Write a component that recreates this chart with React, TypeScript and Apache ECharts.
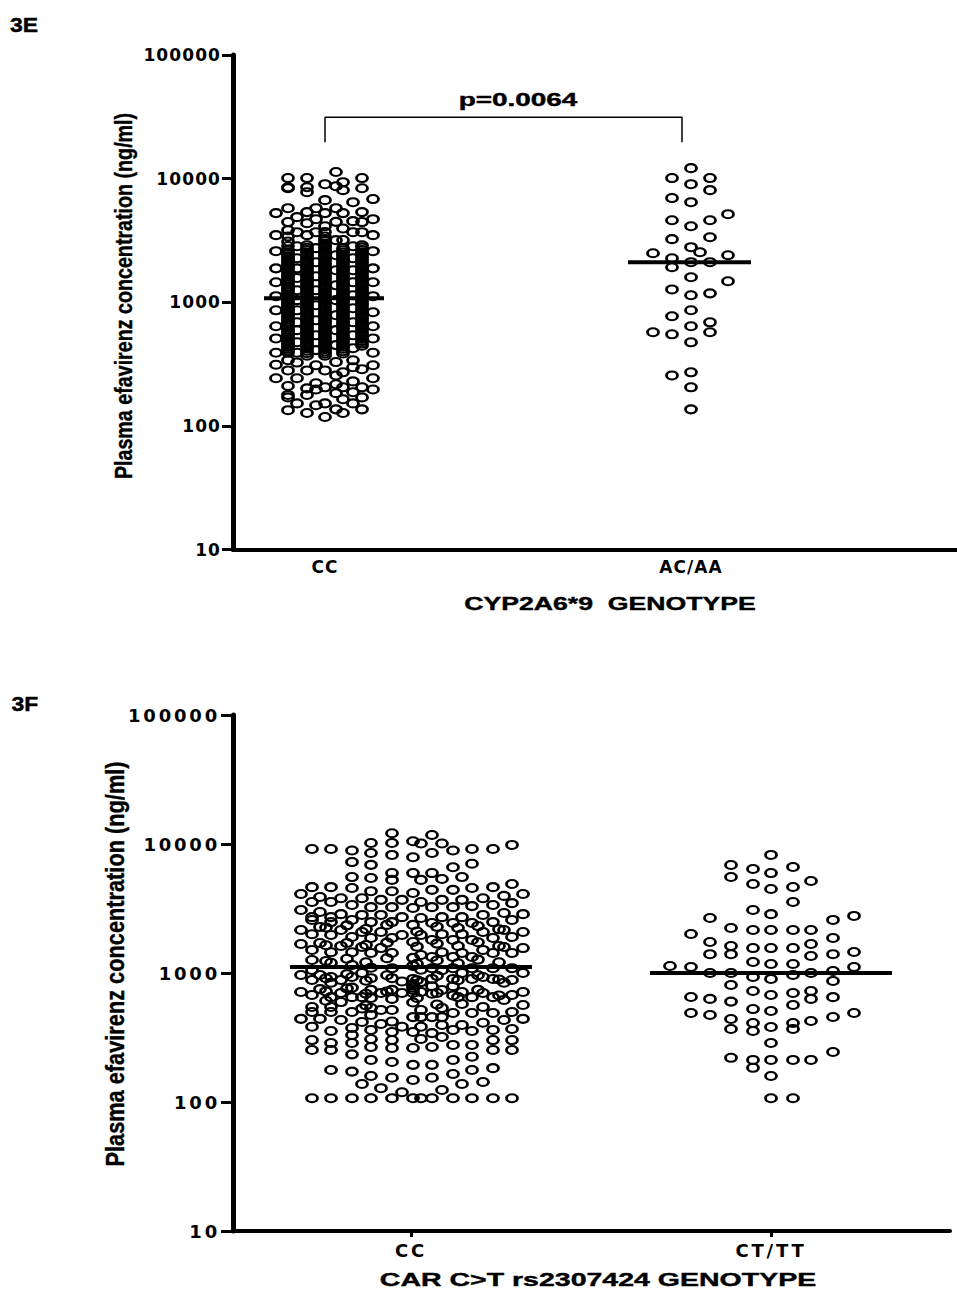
import React, { useEffect, useRef } from "react";
import * as echarts from "echarts";

const yTicks = [10, 100, 1000, 10000, 100000];
const eCategories = ["CC", "AC/AA"];
const fCategories = ["CC", "CT/TT"];
const eCentres = [92, 458];
const fCentres = [178, 538];
const eMeans = [1077, 2110];
const fMeans = [1113, 1000];

// Panel 3E, genotype CC: horizontal swarm offsets and their concentrations (ng/ml)
const eCCOffsets = [-49, -37, -28, -18, -9, 0, 11, 18, 28, 37, 48, -37, -18, 0, 18, 37];
const eCCValues = [
  [5260, 3490, 2590, 1880, 1450, 1120, 860, 640, 510, 390, 312, 243],
  [10100, 8510, 8350, 5770, 4450, 3830, 3400, 3100, 2850, 2640, 2450, 2270, 2100, 1950, 1810, 1680, 1560, 1450, 1340, 1250, 1160, 1080, 1000, 930, 870, 810, 750, 700, 650, 600, 560, 520, 480, 450, 420, 390, 340, 281, 210, 178, 170, 134],
  [4880, 3690, 2840, 2270, 1880, 1570, 1250, 1040, 860, 690, 595, 475, 390, 325, 243, 152],
  [10100, 8510, 7770, 5360, 4350, 3490, 2890, 2640, 2420, 2230, 2050, 1880, 1730, 1590, 1470, 1350, 1250, 1150, 1060, 980, 900, 830, 770, 710, 655, 605, 560, 515, 475, 440, 405, 370, 281, 201, 178, 127],
  [5770, 4700, 3690, 2740, 2110, 1620, 1250, 945, 715, 540, 410, 309, 221, 197, 147],
  [9020, 6700, 5260, 4120, 3700, 3400, 3130, 2880, 2650, 2440, 2250, 2070, 1910, 1760, 1620, 1490, 1370, 1260, 1160, 1070, 985, 905, 835, 770, 710, 655, 600, 555, 510, 470, 435, 400, 370, 281, 205, 152, 118],
  [11300, 8680, 5770, 4470, 3180, 2400, 1815, 1370, 1040, 785, 595, 450, 328, 256, 217, 184, 136],
  [9360, 8070, 5260, 3950, 3190, 2740, 2530, 2330, 2150, 1980, 1820, 1680, 1550, 1430, 1320, 1210, 1120, 1030, 950, 875, 805, 745, 685, 630, 580, 535, 495, 455, 420, 385, 271, 205, 164, 127],
  [6450, 4530, 3690, 2840, 2270, 1815, 1450, 1140, 895, 690, 540, 424, 339, 298, 229, 187, 152],
  [10100, 8360, 5360, 4450, 3690, 2890, 2650, 2440, 2250, 2070, 1900, 1750, 1610, 1480, 1360, 1250, 1150, 1060, 980, 900, 830, 765, 705, 650, 600, 550, 505, 465, 287, 205, 170, 136],
  [6830, 4700, 3490, 2590, 1880, 1450, 1120, 830, 640, 510, 390, 309, 243, 197],
  [2540, 2360, 2190, 2030, 1880, 1740, 1620, 1510, 1400, 1300, 1210, 1120, 1040, 965, 900, 840, 780, 725, 675, 625, 580, 540, 500, 465, 435, 405],
  [2760, 2530, 2330, 2140, 1960, 1800, 1660, 1530, 1410, 1300, 1200, 1105, 1020, 940, 865, 800, 740, 682, 630, 582, 537, 495, 457, 422, 388],
  [3250, 2990, 2760, 2540, 2340, 2160, 1990, 1830, 1690, 1560, 1430, 1315, 1210, 1115, 1027, 945, 870, 802, 740, 682, 627, 577, 532, 490, 452, 417, 385],
  [2630, 2430, 2240, 2060, 1900, 1750, 1610, 1490, 1375, 1265, 1165, 1075, 990, 912, 840, 775, 715, 657, 607, 557, 515, 475, 437, 402],
  [2780, 2540, 2340, 2160, 1980, 1825, 1680, 1545, 1420, 1305, 1205, 1105, 1020, 940, 865, 797, 735, 677, 625, 575, 527, 485, 445],
];

// Panel 3E, genotype AC/AA
const eACOffsets = [-38, -19, 0, 9, 19, 37];
const eACValues = [
  [2490, 572],
  [10100, 6960, 4610, 3240, 2270, 1920, 1270, 770, 550, 256],
  [12160, 9020, 6450, 4120, 2790, 2110, 1594, 1140, 861, 639, 474, 271, 205, 136],
  [2540],
  [10100, 8070, 4610, 3360, 2110, 1180, 688, 572],
  [5160, 2400, 1480],
];

// Panel 3F, genotype CC
const fCCOffsets = [-110, -99, -91, -80, -70, -59, -49, -40, -30, -19, -9, 2, 10, 21, 31, 42, 51, 61, 72, 82, 93, 101, 112, -85, -64, -45, -24, 6, 26, 47, 67, 88];
const fCCValues = [
  [4100, 3080, 2155, 1680, 965, 713, 441],
  [9140, 4630, 3550, 2710, 2580, 2000, 1510, 1260, 1055, 883, 675, 545, 498, 383, 302, 253, 107],
  [3880, 2970, 2270, 1710, 965, 750, 441],
  [9140, 4630, 3550, 2710, 2480, 1970, 1450, 1200, 930, 840, 650, 545, 498, 355, 287, 253, 177, 107],
  [3800, 2860, 2155, 1620, 883, 700, 595, 432],
  [8900, 7240, 5540, 4560, 3370, 2580, 1900, 1450, 1153, 930, 770, 650, 498, 375, 331, 287, 234, 172, 107],
  [3800, 2820, 2080, 1590, 1000, 650, 530, 417, 138],
  [10180, 8520, 6890, 5450, 4310, 3240, 2480, 1870, 1430, 1100, 912, 740, 640, 535, 473, 362, 308, 267, 212, 159, 107],
  [3690, 2820, 2080, 1560, 700, 517, 402, 128],
  [12100, 10180, 8230, 5950, 5270, 4310, 3240, 2480, 1870, 1430, 1090, 912, 740, 630, 517, 420, 349, 302, 262, 204, 154, 107],
  [3690, 2710, 1970, 860, 700, 383, 119],
  [10500, 7900, 5950, 4170, 3190, 2360, 1740, 1310, 1135, 900, 820, 800, 770, 740, 700, 590, 455, 349, 262, 194, 148, 107],
  [10100, 5270, 3550, 2670, 1970, 1380, 1060, 850, 713, 517, 455, 383, 308, 107],
  [11750, 8520, 5950, 4410, 3240, 2440, 1800, 1330, 1090, 900, 790, 690, 455, 342, 267, 194, 154, 107],
  [10100, 5360, 3690, 2710, 2000, 1450, 1050, 738, 535, 455, 395, 319, 124],
  [8900, 6600, 4410, 3240, 2440, 1800, 1330, 1090, 900, 790, 670, 490, 362, 277, 212, 165, 107],
  [5540, 3690, 2710, 2000, 1430, 1000, 713, 575, 395, 138],
  [9140, 7020, 4560, 3300, 2440, 1800, 1330, 1090, 900, 650, 490, 355, 277, 224, 177, 107],
  [3800, 2820, 2080, 1510, 930, 700, 545, 412, 143],
  [9140, 4630, 3370, 2480, 1870, 1430, 1090, 900, 650, 490, 362, 302, 253, 183, 107],
  [3960, 2920, 2155, 1590, 840, 618, 432],
  [9840, 4900, 3480, 2580, 1900, 1430, 1090, 883, 675, 498, 368, 302, 253, 107],
  [4100, 2860, 2080, 1560, 1000, 713, 565, 441],
  [2250, 1640, 1240, 910, 720, 610],
  [2340, 1710, 1290, 980, 760],
  [2190, 1650, 1210, 870, 690, 560],
  [2360, 1720, 1300, 960, 720],
  [2100, 1600, 1180, 880, 640],
  [2280, 1690, 1250, 950, 700, 570],
  [2230, 1620, 1190, 880, 650],
  [2310, 1730, 1270, 960, 740],
  [2180, 1620, 1210, 890, 670],
];

// Panel 3F, genotype CT/TT
const fCTOffsets = [-101, -80, -61, -40, -18, 0, 22, 40, 62, 83];
const fCTValues = [
  [1133],
  [2005, 1113, 652, 490],
  [2670, 1740, 1400, 1000, 630, 473],
  [6880, 5550, 2230, 1620, 1400, 1000, 807, 600, 440, 368, 220],
  [6400, 4900, 3080, 2155, 1560, 1217, 930, 725, 525, 410, 355, 212, 184],
  [8230, 5950, 4480, 2860, 2155, 1560, 1175, 900, 675, 507, 381, 287, 212, 159, 107],
  [6640, 4640, 3550, 2155, 1560, 1175, 965, 700, 565, 410, 368, 212, 107],
  [5170, 2155, 1680, 1355, 1000, 725, 630, 425, 212],
  [2580, 1870, 1400, 1035, 867, 650, 456, 244],
  [2770, 1455, 1113, 490],
];

const swarm = (centre: number, offsets: number[], values: number[][]) =>
  offsets.flatMap((o, i) => values[i].map((v) => [centre + o, v]));

const ELLIPSE = "path://M0 5A5 5 0 1 1 10 5A5 5 0 1 1 0 5Z";
const LABEL_FONT = "DejaVu Sans";
const TITLE_FONT = "Liberation Sans";

const scatter = (axis: number, data: number[][]) => ({
  type: "scatter",
  xAxisIndex: axis,
  yAxisIndex: axis,
  data,
  symbol: ELLIPSE,
  symbolSize: [11, 8],
  symbolKeepAspect: false,
  itemStyle: { color: "rgba(0,0,0,0)", borderColor: "#000", borderWidth: 2.4, opacity: 1 },
  silent: true,
  z: 2,
});

const meanLine = (axis: number, x0: number, x1: number, y: number) => ({
  type: "line",
  xAxisIndex: axis,
  yAxisIndex: axis,
  data: [[x0, y], [x1, y]],
  showSymbol: false,
  symbol: "none",
  lineStyle: { color: "#000", width: 4 },
  silent: true,
  z: 3,
});

const yAxis = (grid: number, tickLen: number, size: number) => ({
  type: "log",
  logBase: 10,
  gridIndex: grid,
  min: yTicks[0],
  max: yTicks[yTicks.length - 1],
  splitLine: { show: false },
  minorTick: { show: false },
  axisLine: { show: true, onZero: false, lineStyle: { color: "#000", width: 5 } },
  axisTick: { show: true, length: tickLen, lineStyle: { color: "#000", width: 3 } },
  axisLabel: {
    color: "#000",
    fontFamily: LABEL_FONT,
    fontWeight: "bold",
    fontSize: size,
    margin: tickLen + 1,
    formatter: (v: number) => String(Math.round(v)),
  },
});

const xAxis = (grid: number, width: number, centres: number[], cats: string[], tick: boolean, size: number, margin: number) => ({
  type: "value",
  gridIndex: grid,
  min: 0,
  max: width,
  splitLine: { show: false },
  axisLine: { show: true, onZero: false, lineStyle: { color: "#000", width: 4 } },
  axisTick: { show: tick, customValues: centres, length: 6, lineStyle: { color: "#000", width: 3 } },
  axisLabel: {
    color: "#000",
    fontFamily: LABEL_FONT,
    fontWeight: "bold",
    fontSize: size,
    margin,
    customValues: centres,
    formatter: (v: number) => cats[centres.indexOf(v)] ?? "",
  },
});

const txt = (text: string, x: number, y: number, size: number, scaleX: number, rotation = 0, scaleY = 1) => ({
  type: "text",
  x,
  y,
  rotation,
  scaleX,
  scaleY,
  silent: true,
  style: {
    text,
    fill: "#000",
    stroke: "#000",
    lineWidth: 0.4,
    font: `bold ${size}px "${TITLE_FONT}"`,
    align: "center",
    verticalAlign: "middle",
  },
});

const TRACKING = `
  svg text[style*="17px"][style*="DejaVu"] { letter-spacing: 1.1px; }
  svg text[style*="18px"][style*="DejaVu"] { letter-spacing: 2.8px; }
`;

export default function App() {
  const ref = useRef<HTMLDivElement>(null);
  useEffect(() => {
    const chart = echarts.init(ref.current!, undefined, { renderer: "svg" });
    chart.setOption({
      animation: false,
      backgroundColor: "#fff",
      grid: [
        { left: 233, top: 55, width: 724, height: 494.5 },
        { left: 233, top: 715, width: 717, height: 516 },
      ],
      xAxis: [
        xAxis(0, 724, eCentres, eCategories, false, 17, 9),
        xAxis(1, 717, fCentres, fCategories, true, 18, 10),
      ],
      yAxis: [yAxis(0, 11, 17), yAxis(1, 12, 18)],
      series: [
        scatter(0, swarm(eCentres[0], eCCOffsets, eCCValues)),
        scatter(0, swarm(eCentres[1], eACOffsets, eACValues)),
        scatter(1, swarm(fCentres[0], fCCOffsets, fCCValues)),
        scatter(1, swarm(fCentres[1], fCTOffsets, fCTValues)),
        meanLine(0, eCentres[0] - 61, eCentres[0] + 59, eMeans[0]),
        meanLine(0, eCentres[1] - 63, eCentres[1] + 60, eMeans[1]),
        meanLine(1, fCentres[0] - 121, fCentres[0] + 121, fMeans[0]),
        meanLine(1, fCentres[1] - 121, fCentres[1] + 121, fMeans[1]),
        {
          type: "line",
          xAxisIndex: 0,
          yAxisIndex: 0,
          data: [[92, 19700], [92, 31400], [449, 31400], [449, 19700]],
          symbol: "none",
          showSymbol: false,
          lineStyle: { color: "#000", width: 1.5 },
          silent: true,
        },
      ],
      graphic: [
        txt("3E", 24, 25, 20, 1.15),
        txt("3F", 25, 704, 20, 1.15),
        txt("p=0.0064", 518, 100, 18, 1.55),
        txt("CYP2A6*9  GENOTYPE", 610, 604, 18, 1.48),
        txt("CAR C>T rs2307424 GENOTYPE", 598, 1279, 19, 1.5),
        txt("Plasma efavirenz concentration (ng/ml)", 124, 296, 24, 0.82, Math.PI / 2),
        txt("Plasma efavirenz concentration (ng/ml)", 115, 964, 26, 0.837, Math.PI / 2),
      ],
    });
    return () => chart.dispose();
  }, []);
  return (
    <>
      <style>{TRACKING}</style>
      <div ref={ref} style={{ position: "absolute", left: 0, top: 0, width: 957, height: 1290 }} />
    </>
  );
}
